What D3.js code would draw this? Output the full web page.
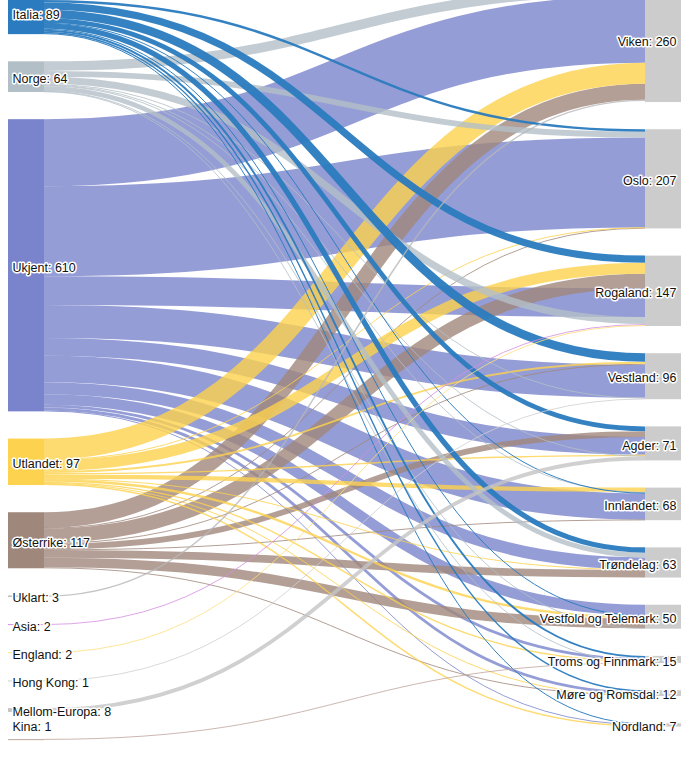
<!DOCTYPE html>
<html>
<head>
<meta charset="utf-8">
<script src="https://cdn.jsdelivr.net/npm/d3@7"></script>
<style>
  html, body { margin: 0; padding: 0; background: #fff; }
  svg { display: block; }
  text { font-family: Helvetica, Arial, "Liberation Sans", sans-serif; font-size: 12.5px; }
</style>
</head>
<body>
<svg id="chart" width="690" height="758"></svg>
<script>
// ---------- DATA ----------
const sources = ["Italia", "Norge", "Ukjent", "Utlandet", "Østerrike", "Uklart", "Asia", "England", "Hong Kong", "Mellom-Europa", "Kina"];
const sourceValues = [89, 64, 610, 97, 117, 3, 2, 2, 1, 8, 1];
const sourceColors = ["#2a7bbf", "#b3bfc7", "#7a84cc", "#fdd24e", "#a0877c", "#b8b8b8", "#d48fe0", "#fde07f", "#d0d0d0", "#c4c4c4", "#bfa59c"];

const targets = ["Viken", "Oslo", "Rogaland", "Vestland", "Agder", "Innlandet", "Trøndelag", "Vestfold og Telemark", "Troms og Finnmark", "Møre og Romsdal", "Nordland"];
const targetValues = [260, 207, 147, 96, 71, 68, 63, 50, 15, 12, 7];

// links: [source, target, value] — listed in the order they stack at each target
const links = [
  ["Italia", "Viken", 18], ["Norge", "Viken", 20], ["Ukjent", "Viken", 140], ["Utlandet", "Viken", 44], ["Østerrike", "Viken", 33], ["Uklart", "Viken", 3],
  ["Italia", "Oslo", 5], ["Norge", "Oslo", 12], ["Ukjent", "Oslo", 188], ["Utlandet", "Oslo", 1], ["Østerrike", "Oslo", 1],
  ["Italia", "Rogaland", 15], ["Utlandet", "Rogaland", 23], ["Østerrike", "Rogaland", 30], ["Ukjent", "Rogaland", 60], ["Norge", "Rogaland", 15], ["Asia", "Rogaland", 2], ["England", "Rogaland", 2],
  ["Italia", "Vestland", 18], ["Utlandet", "Vestland", 4], ["Østerrike", "Vestland", 2], ["Ukjent", "Vestland", 69], ["Norge", "Vestland", 2], ["Hong Kong", "Vestland", 1],
  ["Italia", "Agder", 10], ["Østerrike", "Agder", 12], ["Ukjent", "Agder", 37], ["Utlandet", "Agder", 3], ["Norge", "Agder", 1], ["Mellom-Europa", "Agder", 8],
  ["Utlandet", "Innlandet", 9], ["Norge", "Innlandet", 2], ["Italia", "Innlandet", 1], ["Ukjent", "Innlandet", 55], ["Østerrike", "Innlandet", 1],
  ["Italia", "Trøndelag", 11], ["Norge", "Trøndelag", 10], ["Ukjent", "Trøndelag", 25], ["Utlandet", "Trøndelag", 1], ["Østerrike", "Trøndelag", 16],
  ["Ukjent", "Vestfold og Telemark", 22], ["Italia", "Vestfold og Telemark", 2], ["Utlandet", "Vestfold og Telemark", 5], ["Østerrike", "Vestfold og Telemark", 20], ["Norge", "Vestfold og Telemark", 1],
  ["Italia", "Troms og Finnmark", 4], ["Ukjent", "Troms og Finnmark", 6], ["Utlandet", "Troms og Finnmark", 3], ["Norge", "Troms og Finnmark", 1], ["Kina", "Troms og Finnmark", 1],
  ["Italia", "Møre og Romsdal", 3], ["Ukjent", "Møre og Romsdal", 6], ["Østerrike", "Møre og Romsdal", 2], ["Utlandet", "Møre og Romsdal", 1],
  ["Italia", "Nordland", 2], ["Ukjent", "Nordland", 2], ["Utlandet", "Nordland", 3]
];

// drawing order of link groups (later = on top)
const drawOrder = ["Ukjent", "Østerrike", "Utlandet", "Norge", "Italia", "Uklart", "Asia", "England", "Hong Kong", "Mellom-Europa", "Kina"];

// ---------- LAYOUT ----------
const W = 690, H = 758;
const nodeWidth = 36, nodePadding = 27.2;
const x = d3.scaleLinear().domain([0, 1]).range([8, 645]);   // column -> node x0
const k = d3.scaleLinear().domain([0, 1]).range([0, 0.479]); // value -> px
const colTop = [-8.5, -22.5]; // columns extend above the visible area (cropped view)

function stackColumn(names, values, col) {
  let y = colTop[col];
  return names.map((name, i) => {
    const n = { name, value: values[i], col, index: i, x0: x(col), x1: x(col) + nodeWidth, y0: y, y1: y + k(values[i]) };
    y = n.y1 + nodePadding;
    return n;
  });
}
const leftNodes = stackColumn(sources, sourceValues, 0);
const rightNodes = stackColumn(targets, targetValues, 1);
const byName = new Map([...leftNodes, ...rightNodes].map(n => [n.name, n]));

const L = links.map(([s, t, v], i) => ({ source: byName.get(s), target: byName.get(t), value: v, width: k(v), order: i }));

// source side: sort by target position
leftNodes.forEach(n => {
  let y = n.y0;
  L.filter(l => l.source === n).sort((a, b) => a.target.index - b.target.index).forEach(l => {
    l.ys = y + l.width / 2; y += l.width;
  });
});
// target side: in listed order
rightNodes.forEach(n => {
  let y = n.y0;
  L.filter(l => l.target === n).sort((a, b) => a.order - b.order).forEach(l => {
    l.yt = y + l.width / 2; y += l.width;
  });
});

// ---------- DRAW ----------
const svg = d3.select("#chart");
const color = d3.scaleOrdinal().domain(sources).range(sourceColors);
const linkPath = d3.linkHorizontal();

const sortedLinks = L.slice().sort((a, b) => drawOrder.indexOf(a.source.name) - drawOrder.indexOf(b.source.name));

svg.append("g")
  .attr("fill", "none")
  .selectAll("path")
  .data(sortedLinks)
  .join("path")
  .attr("d", d => linkPath({ source: [d.source.x1, d.ys], target: [d.target.x0, d.yt] }))
  .attr("stroke", d => color(d.source.name))
  .attr("stroke-opacity", d => d.source.name === "Italia" ? 0.95 : 0.8)
  .attr("stroke-width", d => Math.max(1, d.width));

svg.append("g")
  .selectAll("rect")
  .data([...leftNodes, ...rightNodes])
  .join("rect")
  .attr("x", d => d.x0)
  .attr("y", d => d.y0)
  .attr("width", d => d.x1 - d.x0)
  .attr("height", d => Math.max(1, d.y1 - d.y0))
  .attr("fill", d => d.col === 0 ? color(d.name) : "#cccccc");

svg.append("g")
  .selectAll("text")
  .data([...leftNodes, ...rightNodes])
  .join("text")
  .attr("x", d => d.col === 0 ? d.x0 + 4.5 : d.x1 - 4.5)
  .attr("y", d => Math.min((d.y0 + d.y1) / 2, 725))
  .attr("dy", "0.5em")
  .attr("text-anchor", d => d.col === 0 ? "start" : "end")
  .attr("fill", "#111")
  .attr("stroke", "#fff")
  .attr("stroke-width", 3)
  .attr("stroke-linejoin", "round")
  .attr("paint-order", "stroke")
  .text(d => `${d.name}: ${d.value}`);
</script>
</body>
</html>
